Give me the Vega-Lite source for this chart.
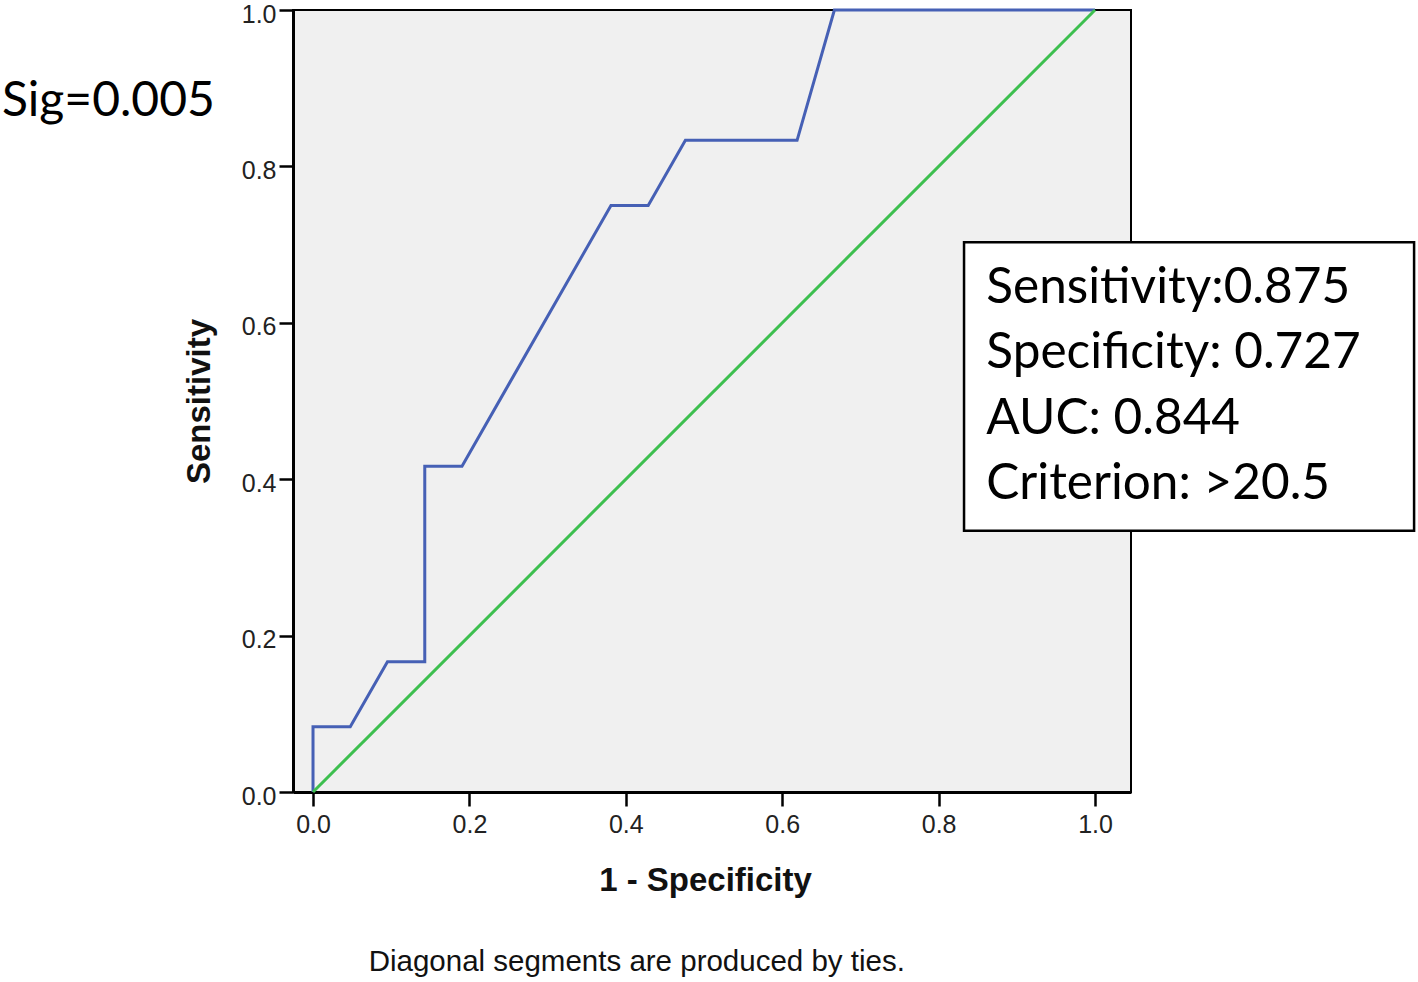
{
  "$schema": "https://vega.github.io/schema/vega-lite/v6.json",
  "autosize": "none",
  "width": 838,
  "height": 782,
  "padding": {"left": 293, "top": 10, "right": 287, "bottom": 190},
  "background": "white",
  "config": {
    "view": {"fill": "#f0f0f0", "stroke": "#000000", "strokeWidth": 2},
    "axis": {
      "grid": false,
      "domainColor": "#000000",
      "domainWidth": 3,
      "tickColor": "#000000",
      "tickWidth": 2.5,
      "tickSize": 14,
      "labelFont": "Liberation Sans",
      "labelFontSize": 25,
      "labelColor": "#222222",
      "titleFont": "Liberation Sans",
      "titleFontSize": 33,
      "titleFontWeight": "bold",
      "titleColor": "#111111"
    }
  },
  "datasets": {
    "roc": [
      {"series": "curve", "order": 1, "fpr": 0.0, "tpr": 0.0},
      {"series": "curve", "order": 2, "fpr": 0.0, "tpr": 0.0833},
      {"series": "curve", "order": 3, "fpr": 0.0476, "tpr": 0.0833},
      {"series": "curve", "order": 4, "fpr": 0.0952, "tpr": 0.1667},
      {"series": "curve", "order": 5, "fpr": 0.1429, "tpr": 0.1667},
      {"series": "curve", "order": 6, "fpr": 0.1429, "tpr": 0.4167},
      {"series": "curve", "order": 7, "fpr": 0.1905, "tpr": 0.4167},
      {"series": "curve", "order": 8, "fpr": 0.381, "tpr": 0.75},
      {"series": "curve", "order": 9, "fpr": 0.4286, "tpr": 0.75},
      {"series": "curve", "order": 10, "fpr": 0.4762, "tpr": 0.8333},
      {"series": "curve", "order": 11, "fpr": 0.619, "tpr": 0.8333},
      {"series": "curve", "order": 12, "fpr": 0.6667, "tpr": 1.0},
      {"series": "curve", "order": 13, "fpr": 1.0, "tpr": 1.0},
      {"series": "reference", "order": 1, "fpr": 0.0, "tpr": 0.0},
      {"series": "reference", "order": 2, "fpr": 1.0, "tpr": 1.0}
    ],
    "box": [
      {"x1": 0.8325, "x2": 1.408, "y1": 0.334, "y2": 0.703}
    ],
    "boxtext": [
      {"label": "Sensitivity:0.875", "x": 0.861, "y": 0.6445},
      {"label": "Specificity: 0.727", "x": 0.861, "y": 0.5614},
      {"label": "AUC: 0.844", "x": 0.861, "y": 0.477},
      {"label": "Criterion: >20.5", "x": 0.861, "y": 0.394}
    ],
    "sig": [
      {"label": "Sig=0.005", "x": -0.3977, "y": 0.882}
    ],
    "note": [
      {"label": "Diagonal segments are produced by ties.", "x": 0.414, "y": -0.2174}
    ]
  },
  "layer": [
    {
      "data": {"name": "roc"},
      "mark": {"type": "line", "strokeWidth": 3, "interpolate": "linear"},
      "encoding": {
        "x": {
          "field": "fpr", "type": "quantitative",
          "scale": {"domain": [-0.0256, 1.046], "nice": false, "zero": false},
          "axis": {"title": "1 - Specificity", "values": [0, 0.2, 0.4, 0.6, 0.8, 1.0], "format": ".1f", "labelPadding": 6, "titlePadding": 27, "titleX": 412}
        },
        "y": {
          "field": "tpr", "type": "quantitative",
          "scale": {"domain": [0, 1], "nice": false},
          "axis": {"title": "Sensitivity", "values": [0, 0.2, 0.4, 0.6, 0.8, 1.0], "format": ".1f", "labelPadding": 3, "labelOffset": 4, "titlePadding": 25}
        },
        "color": {
          "field": "series", "type": "nominal",
          "scale": {"domain": ["curve", "reference"], "range": ["#4660b5", "#3dbf4f"]},
          "legend": null
        },
        "order": {"field": "order", "type": "quantitative"}
      }
    },
    {
      "data": {"name": "box"},
      "mark": {"type": "rect", "fill": "white", "stroke": "#000000", "strokeWidth": 2.5},
      "encoding": {
        "x": {"field": "x1", "type": "quantitative"},
        "x2": {"field": "x2"},
        "y": {"field": "y1", "type": "quantitative"},
        "y2": {"field": "y2"}
      }
    },
    {
      "data": {"name": "boxtext"},
      "mark": {"type": "text", "align": "left", "baseline": "middle", "font": "Lato", "fontSize": 49.5, "color": "#000000"},
      "encoding": {
        "x": {"field": "x", "type": "quantitative"},
        "y": {"field": "y", "type": "quantitative"},
        "text": {"field": "label"}
      }
    },
    {
      "data": {"name": "sig"},
      "mark": {"type": "text", "align": "left", "baseline": "middle", "font": "Lato", "fontSize": 48, "color": "#000000"},
      "encoding": {
        "x": {"field": "x", "type": "quantitative"},
        "y": {"field": "y", "type": "quantitative"},
        "text": {"field": "label"}
      }
    },
    {
      "data": {"name": "note"},
      "mark": {"type": "text", "align": "center", "baseline": "middle", "font": "Liberation Sans", "fontSize": 29.5, "color": "#111111"},
      "encoding": {
        "x": {"field": "x", "type": "quantitative"},
        "y": {"field": "y", "type": "quantitative"},
        "text": {"field": "label"}
      }
    }
  ]
}
